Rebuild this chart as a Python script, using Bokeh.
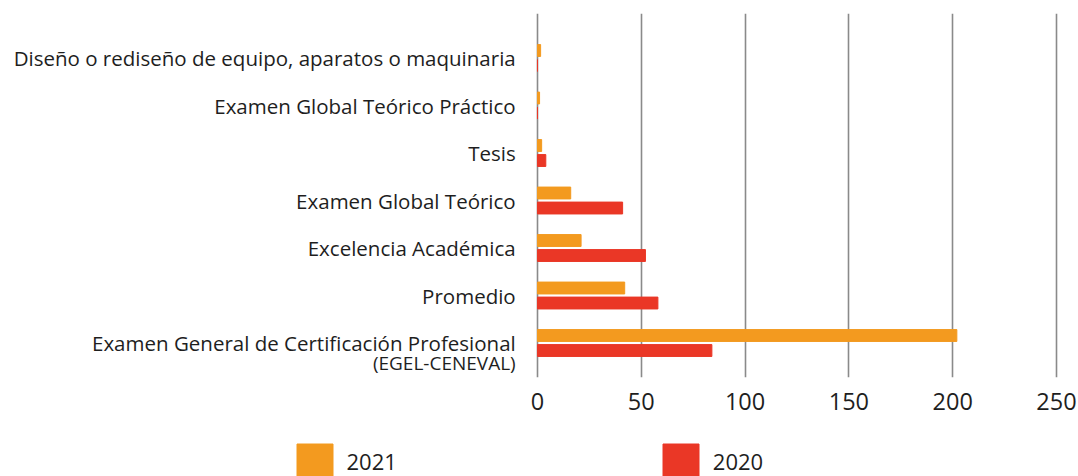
from bokeh.plotting import figure
from bokeh.layouts import column
from bokeh.models import (ColumnDataSource, Range1d, FixedTicker, Legend, LegendItem)
from bokeh.core.properties import value
from bokeh.embed import file_html
from bokeh.resources import INLINE

categories = [
    "Diseño o rediseño de equipo, aparatos o maquinaria",
    "Examen Global Teórico Práctico",
    "Tesis",
    "Examen Global Teórico",
    "Excelencia Académica",
    "Promedio",
    "Examen General de Certificación Profesional",
]
sub_label = "(EGEL-CENEVAL)"
values_2021 = [1.5, 1, 2, 16, 21, 42, 202]
values_2020 = [0, 0, 4, 41, 52, 58, 84]
series_names = ["2021", "2020"]
x_ticks = [0, 50, 100, 150, 200, 250]

FONT = "Open Sans"
ORANGE = "#F39A1F"
RED = "#EA3726"
TXT = "#1e1e1e"

n = len(categories)
ypos = [n - 1 - i for i in range(n)]
off = 0.158
bh = 0.25
label_x = -10.5

src = ColumnDataSource(dict(
    y21=[y + off for y in ypos],
    y20=[y - off for y in ypos],
    v21=values_2021,
    v20=values_2020,
    ylab=ypos,
    xlab=[label_x] * n,
    lab=categories,
))

W = 1078
p = figure(width=W, height=430, output_backend="svg", toolbar_location=None,
           x_range=Range1d(-258.67, 260.6), y_range=Range1d(-0.726, n - 1 + 0.937),
           min_border_left=0, min_border_right=0, min_border_top=13, min_border_bottom=53,
           y_axis_location=None)
p.outline_line_color = None

r21 = p.hbar(y="y21", right="v21", left=0, height=bh, source=src, color=ORANGE)
r20 = p.hbar(y="y20", right="v20", left=0, height=bh, source=src, color=RED)

# category labels
p.text(x="xlab", y="ylab", text="lab", source=src, text_align="right",
       text_baseline="middle", text_font=value(FONT), text_font_size="20.5px",
       text_color=TXT)
sub_src = ColumnDataSource(dict(x=[label_x], y=[ypos[-1]], t=[sub_label]))
p.text(x="x", y="y", text="t", source=sub_src, y_offset=20, text_align="right",
       text_baseline="middle", text_font=value(FONT), text_font_size="19px",
       text_color=TXT)

p.xaxis.ticker = FixedTicker(ticks=x_ticks)
p.xaxis.axis_line_color = None
p.xaxis.major_tick_line_color = None
p.xaxis.major_tick_out = 0
p.xaxis.major_tick_in = 0
p.xaxis.minor_tick_line_color = None
p.xaxis.major_label_text_font = FONT
p.xaxis.major_label_text_font_size = "23.5px"
p.xaxis.major_label_text_color = TXT
p.xaxis.major_label_standoff = 15

p.xgrid.ticker = FixedTicker(ticks=x_ticks)
p.xgrid.grid_line_color = "#8a8a8a"
p.xgrid.grid_line_width = 1.6
p.ygrid.grid_line_color = None

# legend strip
p2 = figure(width=W, height=46, output_backend="svg", toolbar_location=None,
            x_axis_location=None, y_axis_location=None, min_border=0,
            x_range=Range1d(0, 1), y_range=Range1d(0, 1))
p2.outline_line_color = None
p2.xgrid.grid_line_color = None
p2.ygrid.grid_line_color = None
dummy = ColumnDataSource(dict(y=[-10], r=[0.5]))
d21 = p2.hbar(y="y", right="r", height=0.1, source=dummy, color=ORANGE)
d20 = p2.hbar(y="y", right="r", height=0.1, source=dummy, color=RED)

lg = Legend(items=[LegendItem(label=series_names[0], renderers=[d21]),
                   LegendItem(label=series_names[1], renderers=[d20])],
            orientation="horizontal", location=(291.5, -7.5), spacing=261,
            glyph_width=45, glyph_height=45, label_text_font=FONT,
            label_text_font_size="22px", label_text_color=TXT,
            label_standoff=10, padding=0, margin=0, border_line_color=None,
            background_fill_alpha=0, label_height=45, label_text_baseline="middle")
p2.add_layout(lg, "center")

open("out.html", "w").write(file_html(column(p, p2, spacing=0), INLINE))
